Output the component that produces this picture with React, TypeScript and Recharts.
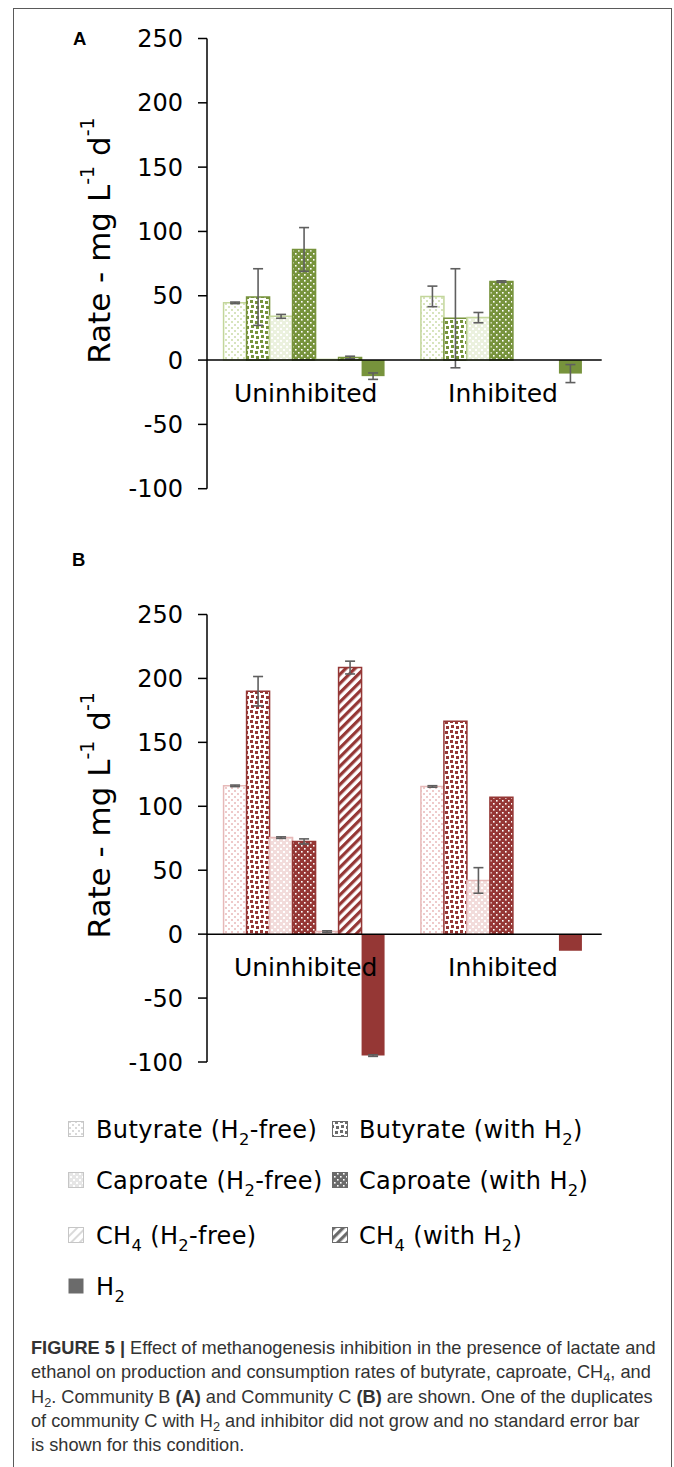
import React from 'react';
import { BarChart, Bar, XAxis, YAxis, ErrorBar, ReferenceLine, ReferenceDot, Label } from 'recharts';

// ---------- data ----------
const categories = ['Uninhibited', 'Inhibited'];
const yTicks = [-100, -50, 0, 50, 100, 150, 200, 250];

// Panel A – Community B
const aButyrateFree = [44.5, 49.5];
const aButyrateFreeErr = [0.6, 8];
const aButyrateH2 = [49, 32.5];
const aButyrateH2Err = [22, 38.5];
const aCaproateFree = [34, 33];
const aCaproateFreeErr = [1.5, 4];
const aCaproateH2 = [86, 61];
const aCaproateH2Err = [17, 0.6];
const aCH4Free = [0.5, 0];
const aCH4FreeErr = [null, null];
const aCH4H2 = [2, 0];
const aCH4H2Err = [1, null];
const aH2 = [-12.5, -10.5];
const aH2Err = [2.5, 7];

// Panel B – Community C
const bButyrateFree = [116, 115.5];
const bButyrateFreeErr = [0.6, 0.6];
const bButyrateH2 = [190, 166.5];
const bButyrateH2Err = [11.5, null];
const bCaproateFree = [75.5, 42];
const bCaproateFreeErr = [0.6, 10];
const bCaproateH2 = [72.5, 107];
const bCaproateH2Err = [2, null];
const bCH4Free = [2, 0];
const bCH4FreeErr = [0.6, null];
const bCH4H2 = [208.5, 0];
const bCH4H2Err = [5, null];
const bH2 = [-95, -13];
const bH2Err = [0.6, null];

const legendLabels = [
  'Butyrate (H~2~-free)',
  'Butyrate (with H~2~)',
  'Caproate (H~2~-free)',
  'Caproate (with H~2~)',
  'CH~4~ (H~2~-free)',
  'CH~4~ (with H~2~)',
  'H~2~',
];

// ---------- helpers ----------
type Row = Record<string, any>;
function buildRows(vals: (number | null)[][], errs: (number | null)[][]): Row[] {
  return categories.map((c, ci) => {
    const r: Row = { cat: c };
    vals.forEach((v, i) => {
      r[`s${i + 1}`] = v[ci];
      r[`e${i + 1}`] = errs[i][ci];
    });
    return r;
  });
}

const dataA = buildRows(
  [aButyrateFree, aButyrateH2, aCaproateFree, aCaproateH2, aCH4Free, aCH4H2, aH2],
  [aButyrateFreeErr, aButyrateH2Err, aCaproateFreeErr, aCaproateH2Err, aCH4FreeErr, aCH4H2Err, aH2Err]
);
const dataB = buildRows(
  [bButyrateFree, bButyrateH2, bCaproateFree, bCaproateH2, bCH4Free, bCH4H2, bH2],
  [bButyrateFreeErr, bButyrateH2Err, bCaproateFreeErr, bCaproateH2Err, bCH4FreeErr, bCH4H2Err, bH2Err]
);

type Pal = { dark: string; lightFill: string; lightDot: string; lightBorder: string };
const palA: Pal = { dark: '#77933C', lightFill: '#EBF1DE', lightDot: '#D7E4BD', lightBorder: '#C3D69B' };
const palB: Pal = { dark: '#953735', lightFill: '#F2DCDB', lightDot: '#EECACA', lightBorder: '#E6B9B8' };
const palG: Pal = { dark: '#6b6b6b', lightFill: '#e6e6e6', lightDot: '#d9d9d9', lightBorder: '#c6c6c6' };

function makePatterns(p: string, c: Pal) {
  return (
    <defs>
      <pattern id={`${p}1`} width="6" height="6" patternUnits="userSpaceOnUse">
        <rect width="6" height="6" fill="#fff" />
        <rect x="0" y="0" width="2" height="2" fill={c.lightDot} />
        <rect x="3" y="3" width="2" height="2" fill={c.lightDot} />
      </pattern>
      <pattern id={`${p}2`} width="10" height="10" patternUnits="userSpaceOnUse">
        <rect width="10" height="10" fill="#fff" />
        <rect x="0" y="0" width="3" height="3" fill={c.dark} />
        <rect x="5" y="1" width="3" height="3" fill={c.dark} />
        <rect x="1" y="5" width="3" height="3" fill={c.dark} />
        <rect x="6" y="6" width="3" height="3" fill={c.dark} />
      </pattern>
      <pattern id={`${p}3`} width="6" height="6" patternUnits="userSpaceOnUse">
        <rect width="6" height="6" fill={c.lightFill} />
        <rect x="1" y="1" width="2" height="2" fill="#fff" />
        <rect x="4" y="4" width="2" height="2" fill="#fff" />
      </pattern>
      <pattern id={`${p}4`} width="6" height="6" patternUnits="userSpaceOnUse">
        <rect width="6" height="6" fill={c.dark} />
        <rect x="1" y="1" width="1.6" height="1.6" fill="#fff" />
        <rect x="4" y="4" width="1.6" height="1.6" fill="#fff" />
      </pattern>
      <pattern id={`${p}5`} width="6" height="6" patternUnits="userSpaceOnUse" patternTransform="rotate(45)">
        <rect width="6" height="6" fill="#fff" />
        <rect x="0" y="0" width="2" height="6" fill={c.lightDot} />
      </pattern>
      <pattern id={`${p}6`} width="6.5" height="6.5" patternUnits="userSpaceOnUse" patternTransform="rotate(45)">
        <rect width="6.5" height="6.5" fill="#fff" />
        <rect x="0" y="0" width="3.2" height="6.5" fill={c.dark} />
      </pattern>
      <pattern id={`${p}7`} width="4" height="4" patternUnits="userSpaceOnUse">
        <rect width="4" height="4" fill={c.dark} />
      </pattern>
    </defs>
  );
}

function strokeFor(i: number, c: Pal) {
  if (i === 6) return 'none';
  return i === 0 || i === 2 || i === 4 ? c.lightBorder : c.dark;
}

const FONT = 'DejaVu Sans';

const renderYLabel = (props: any) => {
  const vb = props.viewBox || { x: 0, y: 0, width: 0, height: 0 };
  const cx = vb.x + 22;
  const cy = vb.y + vb.height / 2 - 23;
  return (
    <text
      x={cx}
      y={cy}
      transform={`rotate(-90 ${cx} ${cy})`}
      textAnchor="middle"
      dominantBaseline="central"
      fontFamily={FONT}
      fontSize={31}
      fill="#000"
    >
      Rate - mg L
      <tspan dy={-12} fontSize={19}>-1</tspan>
      <tspan dy={12}> d</tspan>
      <tspan dy={-12} fontSize={19}>-1</tspan>
    </text>
  );
};

function Panel({ data, pal, prefix, height, margin }: { data: Row[]; pal: Pal; prefix: string; height: number; margin: any }) {
  return (
    <BarChart width={674} height={height} data={data} margin={margin} barCategoryGap="8.4%" barGap={0} style={{ fontFamily: FONT }}>
      {makePatterns(prefix, pal)}
      <XAxis dataKey="cat" hide />
      <YAxis
        domain={[-100, 250]}
        ticks={yTicks}
        interval={0}
        width={130}
        tickSize={9}
        tickMargin={15}
        axisLine={{ stroke: '#000', strokeWidth: 1.5 }}
        tickLine={{ stroke: '#000', strokeWidth: 1.5 }}
        tick={{ fill: '#000', fontSize: 24, fontFamily: FONT }}
      >
        <Label content={renderYLabel} />
      </YAxis>
      {[0, 1, 2, 3, 4, 5, 6].map((i) => (
        <Bar
          key={i}
          dataKey={`s${i + 1}`}
          fill={`url(#${prefix}${i + 1})`}
          stroke={strokeFor(i, pal)}
          strokeWidth={1.5}
          isAnimationActive={false}
        >
          <ErrorBar dataKey={`e${i + 1}`} width={5} strokeWidth={1.6} stroke="#5f5f5f" />
        </Bar>
      ))}
      <ReferenceLine y={0} stroke="#000" strokeWidth={1.5} />
      {categories.map((c) => (
        <ReferenceDot
          key={c}
          x={c}
          y={0}
          r={0}
          fill="none"
          stroke="none"
          label={{ value: c, position: 'bottom', offset: 24, fontSize: 25, fill: '#000', fontFamily: FONT }}
        />
      ))}
    </BarChart>
  );
}

function SubText({ s, x, y, size }: { s: string; x: number; y: number; size: number }) {
  const parts = s.split('~');
  const sub = size * 0.68;
  const shift = size * 0.3;
  const nodes: any[] = [];
  let lowered = false;
  parts.forEach((p, i) => {
    if (p === '') return;
    if (i % 2 === 1) {
      nodes.push(
        <tspan key={i} fontSize={sub} dy={lowered ? 0 : shift}>{p}</tspan>
      );
      lowered = true;
    } else {
      nodes.push(<tspan key={i} dy={lowered ? -shift : 0}>{p}</tspan>);
      lowered = false;
    }
  });
  return (
    <text x={x} y={y} fontFamily={FONT} fontSize={size} letterSpacing={0.35} fill="#000" style={{ whiteSpace: 'pre' }}>
      {nodes}
    </text>
  );
}

function Legend() {
  const rows = [29, 80, 135, 186];
  const cols = [
    { icon: 68, text: 96 },
    { icon: 332, text: 359 },
  ];
  return (
    <svg width={674} height={215} style={{ position: 'absolute', left: 0, top: 1100 }}>
      {makePatterns('pg', palG)}
      {legendLabels.map((lab, i) => {
        const r = Math.floor(i / 2);
        const c = cols[i % 2];
        const cy = rows[r];
        return (
          <g key={i}>
            <rect
              x={c.icon + 0.5}
              y={cy - 7.5}
              width={15}
              height={15}
              fill={`url(#pg${i + 1})`}
              stroke={i === 6 ? 'none' : strokeFor(i, palG)}
              strokeWidth={1}
            />
            <SubText s={lab} x={c.text} y={cy + 8.6} size={24} />
          </g>
        );
      })}
    </svg>
  );
}

const subStyle: React.CSSProperties = { fontSize: '0.7em', verticalAlign: '-0.28em', lineHeight: 0 };

export default function App() {
  return (
    <div style={{ position: 'absolute', left: 0, top: 0, width: 674, height: 1467, background: '#fff', overflow: 'hidden' }}>
      <div
        style={{
          position: 'absolute',
          left: 13,
          top: 8,
          width: 657,
          height: 1467,
          borderLeft: '1px solid #5a5a5a',
          borderTop: '1px solid #5a5a5a',
          borderRight: '1px solid #5a5a5a',
        }}
      />
      <div style={{ position: 'absolute', left: 0, top: 0 }}>
        <Panel data={dataA} pal={palA} prefix="pa" height={530} margin={{ top: 38.5, right: 72.3, bottom: 41.3, left: 77 }} />
      </div>
      <div style={{ position: 'absolute', left: 0, top: 580 }}>
        <Panel data={dataB} pal={palB} prefix="pb" height={510} margin={{ top: 34.5, right: 72.3, bottom: 28, left: 77 }} />
      </div>
      <div style={{ position: 'absolute', left: 73, top: 30, fontFamily: 'Liberation Sans', fontWeight: 'bold', fontSize: 18.5, lineHeight: 1 }}>A</div>
      <div style={{ position: 'absolute', left: 72, top: 551, fontFamily: 'Liberation Sans', fontWeight: 'bold', fontSize: 18.5, lineHeight: 1 }}>B</div>
      <Legend />
      <div
        style={{
          position: 'absolute',
          left: 31,
          top: 1336,
          fontFamily: 'Liberation Sans',
          fontSize: 18.2,
          lineHeight: '24.3px',
          color: '#333',
          whiteSpace: 'nowrap',
        }}
      >
        <div><b>FIGURE 5 |</b> Effect of methanogenesis inhibition in the presence of lactate and</div>
        <div>ethanol on production and consumption rates of butyrate, caproate, CH<span style={subStyle}>4</span>, and</div>
        <div>H<span style={subStyle}>2</span>. Community B <b>(A)</b> and Community C <b>(B)</b> are shown. One of the duplicates</div>
        <div>of community C with H<span style={subStyle}>2</span> and inhibitor did not grow and no standard error bar</div>
        <div>is shown for this condition.</div>
      </div>
    </div>
  );
}
